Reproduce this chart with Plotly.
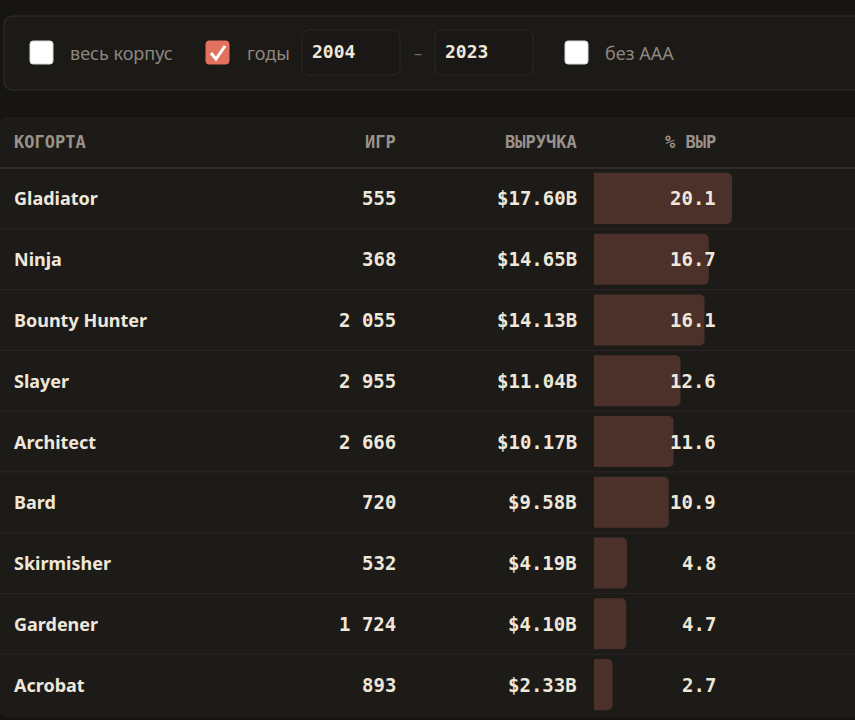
import plotly.graph_objects as go

# ---- data ----
cohorts = ["Gladiator", "Ninja", "Bounty Hunter", "Slayer", "Architect",
           "Bard", "Skirmisher", "Gardener", "Acrobat"]
games = [555, 368, 2055, 2955, 2666, 720, 532, 1724, 893]
revenue_b = [17.60, 14.65, 14.13, 11.04, 10.17, 9.58, 4.19, 4.10, 2.33]
rev_share = [20.1, 16.7, 16.1, 12.6, 11.6, 10.9, 4.8, 4.7, 2.7]
headers = ["КОГОРТА", "ИГР", "ВЫРУЧКА", "% ВЫР"]
year_from, year_to = "2004", "2023"
filter_labels = ["весь корпус", "годы", "без AAA"]

W, H = 855, 720
BG = "#161513"
PANEL = "#1d1b18"
PANEL_LINE = "#2a2825"
BAR = "#4b312a"
TXT = "#efe7da"
MUTED = "#9a928a"
MONO = "DejaVu Sans Mono"
SANS = "Noto Sans"


def px(x):
    return x / W


def py(y):
    return 1 - y / H


def rrect(x0, y0, x1, y1, r):
    pts = [("M", x0 + r, y0), ("L", x1 - r, y0), ("Q", x1, y0, x1, y0 + r),
           ("L", x1, y1 - r), ("Q", x1, y1, x1 - r, y1), ("L", x0 + r, y1),
           ("Q", x0, y1, x0, y1 - r), ("L", x0, y0 + r), ("Q", x0, y0, x0 + r, y0)]
    out = []
    for p in pts:
        cmd = p[0]
        coords = p[1:]
        s = " ".join(f"{px(coords[i]):.5f},{py(coords[i+1]):.5f}" for i in range(0, len(coords), 2))
        out.append(f"{cmd}{s}")
    return " ".join(out) + " Z"


def poly(points):
    return "M" + " L".join(f"{px(a):.5f},{py(b):.5f}" for a, b in points)


fig = go.Figure()

n = len(cohorts)
fig.add_trace(go.Bar(
    x=rev_share, y=cohorts, orientation="h",
    marker=dict(color=BAR, cornerradius=5, line=dict(width=0)),
    hoverinfo="skip", showlegend=False,
))

shapes = []
# filter panel
shapes.append(dict(type="path", xref="paper", yref="paper", path=rrect(4, 16, 880, 90, 10),
                   fillcolor="#1b1a17", line=dict(color=PANEL_LINE, width=1.5), layer="below"))
# table panel
shapes.append(dict(type="path", xref="paper", yref="paper", path=rrect(-1, 118, 880, 716, 10),
                   fillcolor=PANEL, line=dict(color="#242220", width=1), layer="below"))
# header divider
shapes.append(dict(type="line", xref="paper", yref="paper", x0=0, x1=1, y0=py(168), y1=py(168),
                   line=dict(color="#2e2b28", width=2), layer="below"))
# row dividers
for i in range(n - 1):
    shapes.append(dict(type="line", xref="paper", yref="y", x0=0, x1=1, y0=i + 0.5, y1=i + 0.5,
                       line=dict(color="#292623", width=1), layer="below"))
# checkboxes
for cx, checked in [(30, False), (206, True), (565, False)]:
    shapes.append(dict(type="path", xref="paper", yref="paper",
                       path=rrect(cx, 41, cx + 23, 64, 3),
                       fillcolor="#e2725f" if checked else "#ffffff",
                       line=dict(color="#e2725f" if checked else "#d8d8d8", width=1), layer="above"))
shapes.append(dict(type="path", xref="paper", yref="paper",
                   path=poly([(211, 53), (216, 59), (225, 46)]),
                   line=dict(color="#ffffff", width=3), layer="above"))
# year inputs
for bx in (302, 435):
    shapes.append(dict(type="path", xref="paper", yref="paper", path=rrect(bx, 30, bx + 98, 75, 8),
                       fillcolor="#1a1816", line=dict(color="#2b2926", width=1), layer="below"))
fig.update_layout(shapes=shapes)

ann = []
# filter labels
for x, t in zip([68, 245, 603], filter_labels):
    ann.append(dict(x=px(x), y=py(53), xref="paper", yref="paper", text=t, showarrow=False,
                    xanchor="left", yanchor="middle", font=dict(family=SANS, size=18, color="#8e877f")))
ann.append(dict(x=px(310), y=py(52), xref="paper", yref="paper", text=year_from, showarrow=False,
                xanchor="left", yanchor="middle", font=dict(family=MONO, size=18, color=TXT, weight="bold")))
ann.append(dict(x=px(443), y=py(52), xref="paper", yref="paper", text=year_to, showarrow=False,
                xanchor="left", yanchor="middle", font=dict(family=MONO, size=18, color=TXT, weight="bold")))
ann.append(dict(x=px(418), y=py(53), xref="paper", yref="paper", text="–", showarrow=False,
                xanchor="center", yanchor="middle", font=dict(family=SANS, size=16, color="#6f6962")))

# headers
for (x, anchor), t in zip([(12, "left"), (398, "right"), (579, "right"), (718, "right")], headers):
    ann.append(dict(x=px(x), y=py(142), xref="paper", yref="paper", text=t, showarrow=False,
                    xanchor=anchor, yanchor="middle",
                    font=dict(family=MONO, size=17, color=MUTED, weight="bold")))


def fmt_int(v):
    return f"{v:,}".replace(",", " ")


for c, g, r, p in zip(cohorts, games, revenue_b, rev_share):
    ann.append(dict(x=px(12), y=c, xref="paper", yref="y", text=c, showarrow=False,
                    xanchor="left", yanchor="middle",
                    font=dict(family=SANS, size=18, color=TXT, weight="bold")))
    ann.append(dict(x=px(398), y=c, xref="paper", yref="y", text=fmt_int(g), showarrow=False,
                    xanchor="right", yanchor="middle",
                    font=dict(family=MONO, size=19, color=TXT, weight="bold")))
    ann.append(dict(x=px(579), y=c, xref="paper", yref="y", text=f"${r:.2f}B", showarrow=False,
                    xanchor="right", yanchor="middle",
                    font=dict(family=MONO, size=19, color=TXT, weight="bold")))
    ann.append(dict(x=px(718), y=c, xref="paper", yref="y", text=f"{p:.1f}", showarrow=False,
                    xanchor="right", yanchor="middle",
                    font=dict(family=MONO, size=19, color=TXT, weight="bold")))
fig.update_layout(annotations=ann)

fig.update_layout(
    width=W, height=H, margin=dict(l=0, r=0, t=0, b=0),
    paper_bgcolor=BG, plot_bgcolor="rgba(0,0,0,0)",
    bargap=0.16, showlegend=False,
    xaxis=dict(domain=[594 / W, 732 / W], range=[0, max(rev_share)], visible=False, fixedrange=True),
    yaxis=dict(domain=[(H - 715) / H, (H - 168) / H], type="category",
               categoryorder="array", categoryarray=cohorts,
               range=[n - 0.5, -0.5], visible=False, fixedrange=True),
)

fig.write_html("out.html", config={"displayModeBar": False},
               post_script="document.body.style.margin='0';document.body.style.background='" + BG + "';")
